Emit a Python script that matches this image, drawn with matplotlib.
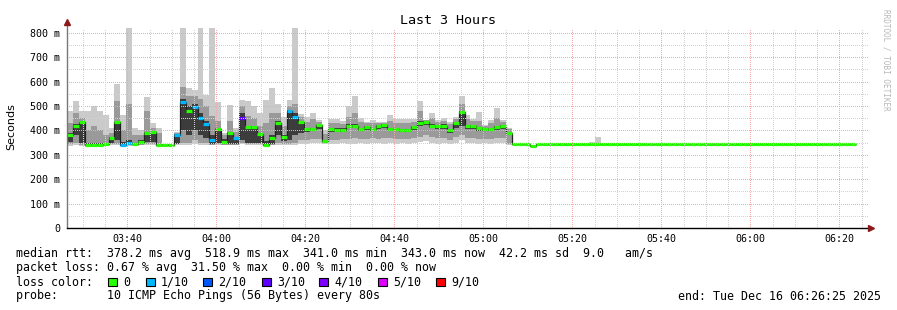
import matplotlib
matplotlib.use('Agg')
import matplotlib.pyplot as plt
from matplotlib.patches import Rectangle
import numpy as np

W, H = 897, 310

# time axis
start_time = '03:26:25'
end_time = '06:26:25'
step_seconds = 80
tick_labels = ['03:40', '04:00', '04:20', '04:40', '05:00', '05:20', '05:40', '06:00', '06:20']
y_ticks = [0, 100, 200, 300, 400, 500, 600, 700, 800]
y_tick_labels = ['0', '100 m', '200 m', '300 m', '400 m', '500 m', '600 m', '700 m', '800 m']

# busy part (80 s steps), values in ms
median_busy = [383, 418, 435, 342, 342, 342, 343, 369, 436, 342,
               349, 345, 353, 390, 393, 342, 342, 342, 383, 518,
               481, 498, 453, 426, 361, 405, 353, 390, 369, 453,
               416, 416, 384, 342, 371, 432, 372, 481, 454, 436,
               407, 407, 421, 357, 407, 403, 403, 420, 420, 407,
               413, 407, 417, 424, 407, 407, 402, 402, 413, 432,
               436, 420, 417, 420, 402, 429, 477, 417, 417, 410,
               406, 407, 413, 419, 391]
loss_busy = [0, 0, 0, 0, 0, 0, 0, 0, 0, 1,
             1, 0, 0, 0, 0, 0, 0, 0, 1, 1,
             0, 1, 1, 1, 1, 0, 0, 0, 1, 3,
             0, 0, 0, 0, 0, 0, 0, 1, 1, 0,
             0, 0, 0, 0, 0, 0, 0, 0, 0, 0,
             0, 0, 0, 0, 0, 0, 0, 0, 0, 0,
             0, 0, 0, 0, 0, 0, 0, 0, 0, 0,
             0, 0, 0, 0, 0]
lo_busy = [338, 340, 338, 338, 338, 338, 338, 340, 340, 338,
           338, 338, 340, 340, 340, 338, 342, 342, 340, 340,
           342, 345, 342, 342, 340, 340, 340, 340, 340, 345,
           340, 340, 340, 338, 340, 340, 340, 340, 342, 345,
           345, 350, 350, 345, 345, 345, 350, 345, 345, 350,
           345, 350, 348, 345, 350, 345, 350, 345, 350, 352,
           355, 350, 345, 350, 345, 350, 360, 350, 350, 345,
           348, 345, 350, 348, 340]
mid_lo_busy = [345, 350, 342, 340, 340, 340, 340, 345, 345, 340,
               340, 340, 342, 345, 345, 340, 342, 342, 343, 350,
               350, 360, 350, 350, 342, 345, 342, 342, 342, 350,
               345, 345, 345, 340, 342, 350, 345, 345, 350, 360,
               360, 365, 365, 350, 360, 360, 365, 365, 370, 365,
               365, 370, 365, 368, 370, 365, 365, 365, 370, 375,
               380, 375, 370, 370, 360, 375, 380, 370, 370, 365,
               365, 365, 370, 368, 345]
core_lo_busy = [352, 380, 349, 342, 342, 342, 342, 349, 360, 342,
                342, 342, 349, 354, 354, 342, 342, 342, 345, 400,
                380, 400, 380, 370, 345, 350, 345, 345, 345, 360,
                350, 350, 350, 342, 345, 380, 355, 360, 380, 390,
                395, 400, 405, 352, 392, 392, 395, 408, 408, 396,
                402, 398, 406, 412, 396, 396, 392, 392, 402, 418,
                422, 408, 404, 406, 390, 412, 420, 404, 404, 398,
                396, 396, 400, 406, 380]
core_hi_busy = [390, 425, 435, 350, 350, 348, 346, 375, 436, 352,
                360, 350, 361, 395, 395, 345, 343, 343, 385, 530,
                500, 510, 470, 440, 380, 410, 365, 395, 375, 470,
                420, 420, 390, 355, 380, 440, 380, 485, 470, 440,
                412, 412, 424, 362, 412, 408, 408, 425, 425, 412,
                418, 412, 422, 428, 412, 412, 406, 406, 418, 437,
                440, 425, 422, 425, 407, 434, 480, 422, 422, 415,
                411, 412, 418, 424, 395]
mid_hi_busy = [430, 470, 450, 400, 420, 400, 380, 390, 520, 400,
               510, 380, 380, 480, 410, 390, 343, 343, 390, 580,
               540, 540, 530, 500, 460, 440, 380, 440, 395, 500,
               460, 450, 420, 430, 470, 470, 420, 500, 510, 455,
               435, 445, 435, 385, 430, 430, 425, 455, 470, 435,
               430, 430, 430, 432, 440, 430, 430, 430, 435, 480,
               442, 450, 435, 440, 425, 445, 510, 445, 440, 440,
               418, 430, 450, 435, 405]
hi_busy = [480, 522, 481, 481, 500, 481, 464, 410, 591, 464,
           820, 410, 402, 539, 430, 410, 343, 343, 395, 820,
           574, 566, 820, 546, 820, 518, 390, 505, 412, 525,
           521, 500, 470, 525, 574, 509, 457, 525, 820, 468,
           457, 472, 443, 402, 447, 447, 439, 500, 541, 451,
           436, 443, 436, 436, 464, 447, 447, 447, 447, 521,
           443, 472, 443, 453, 436, 457, 541, 464, 447, 477,
           423, 443, 494, 443, 410]

# quiet part
median_quiet = [343, 343, 343, 338, 343, 343, 343, 343, 343, 343,
                343, 343, 343, 343, 343, 343, 343, 346, 343, 343,
                346, 343, 343, 346, 346, 346, 343, 343, 344, 343,
                346, 343, 346, 346, 343, 343, 346, 346, 343, 346,
                343, 343, 343, 343, 346, 346, 346, 346, 346, 346,
                346, 346, 343, 343, 343, 343, 346, 343]
hi_quiet = [343, 343, 343, 338, 343, 343, 343, 343, 343, 343,
            343, 343, 343, 353, 372, 343, 343, 346, 343, 343,
            346, 343, 343, 346, 346, 346, 343, 343, 347, 343,
            346, 343, 346, 346, 343, 343, 346, 346, 343, 346,
            343, 343, 343, 343, 346, 346, 346, 346, 346, 346,
            346, 346, 343, 343, 343, 343, 346, 343]
loss_quiet = [0] * 58

loss_levels = ['0', '1/10', '2/10', '3/10', '4/10', '5/10', '9/10']
loss_values = [0, 1, 2, 3, 4, 5, 9]
loss_colors = ['#26ff00', '#00b8ff', '#0059ff', '#5e00ff', '#7e00ff', '#dd00ff', '#ff0000']

median = np.array(median_busy + median_quiet, dtype=float)
loss = loss_busy + loss_quiet
lo = np.array(lo_busy + median_quiet, dtype=float)
mid_lo = np.array(mid_lo_busy + median_quiet, dtype=float)
core_lo = np.array(core_lo_busy + median_quiet, dtype=float)
core_hi = np.array(core_hi_busy + median_quiet, dtype=float)
mid_hi = np.array(mid_hi_busy + median_quiet, dtype=float)
hi = np.array(hi_busy + hi_quiet, dtype=float)


def to_min(s):
    parts = [int(p) for p in s.split(':')]
    while len(parts) < 3:
        parts.append(0)
    return parts[0] * 60 + parts[1] + parts[2] / 60.0


t0 = to_min(start_time)
t1 = to_min(end_time)
edges = t0 + np.arange(len(median) + 1) * step_seconds / 60.0

fig = plt.figure(figsize=(W / 100, H / 100), dpi=100)
fig.patch.set_facecolor('white')
ax = fig.add_axes([67 / W, 82 / H, 801 / W, 200 / H])
ax.set_xlim(t0, t1)
ax.set_ylim(0, 820)
for s in ax.spines.values():
    s.set_visible(False)

# smoke
ax.stairs(hi, edges, baseline=lo, fill=True, color='#cacaca', lw=0, zorder=2)
ax.stairs(mid_hi, edges, baseline=mid_lo, fill=True, color='#9a9a9a', lw=0, zorder=3)
ax.stairs(core_hi, edges, baseline=core_lo, fill=True, color='#3c3c3c', lw=0, zorder=4)

# median
ax.stairs(median, edges, baseline=None, color='#202020', lw=0.9, zorder=5)
cmap = dict(zip(loss_values, loss_colors))
ax.hlines(median, edges[:-1], edges[1:], colors=[cmap[v] for v in loss],
          lw=2.3, capstyle='butt', zorder=6)

# grid, dotted
dot = (0, (1, 2))
for v in range(50, 850, 50):
    if v > 820:
        continue
    c = '#f4a9a9' if v % 100 == 0 else '#d2d2d2'
    ax.axhline(v, color=c, lw=0.72, ls=dot, zorder=7, antialiased=False)
m = np.ceil(t0 / 5) * 5
while m < t1:
    c = '#f4a9a9' if m % 20 == 0 else '#d2d2d2'
    ax.axvline(m, color=c, lw=0.72, ls=dot, zorder=7, antialiased=False)
    m += 5

# axes lines with arrows
ax.plot([0, 0], [0, 1.02], transform=ax.transAxes, color='#777777', lw=1, clip_on=False, zorder=8)
ax.plot([0, 1.004], [0, 0], transform=ax.transAxes, color='black', lw=1, clip_on=False, zorder=8)
ax.plot([0], [1.03], marker='^', ms=4, color='#8b1a1a', transform=ax.transAxes, clip_on=False, zorder=9)
ax.plot([1.004], [0], marker='>', ms=4, color='#8b1a1a', transform=ax.transAxes, clip_on=False, zorder=9)

ax.set_yticks(y_ticks, y_tick_labels, fontsize=7.2, family='DejaVu Sans Mono')
ax.set_xticks([to_min(t) for t in tick_labels], tick_labels, fontsize=7.2, family='DejaVu Sans Mono')
ax.tick_params(axis='y', length=0, pad=5)
ax.tick_params(axis='x', length=0, pad=4)

fig.text(11 / W, 1 - 127 / H, 'Seconds', rotation=90, ha='center', va='center', fontsize=8)
fig.text(448 / W, 1 - 20 / H, 'Last 3 Hours', ha='center', va='center', fontsize=9.6,
         family='DejaVu Sans Mono')
fig.text(886 / W, 1 - 60 / H, 'RRDTOOL / TOBI OETIKER', rotation=270, ha='center', va='center',
         fontsize=5.5, family='DejaVu Sans Mono', color='#b8b8b8')

mono = dict(fontsize=8.4, family='DejaVu Sans Mono', va='center')
fig.text(16 / W, 1 - 254 / H,
         'median rtt:  378.2 ms avg  518.9 ms max  341.0 ms min  343.0 ms now  42.2 ms sd  9.0   am/s', **mono)
fig.text(16 / W, 1 - 268 / H, 'packet loss: 0.67 % avg  31.50 % max  0.00 % min  0.00 % now', **mono)
fig.text(16 / W, 1 - 282 / H, 'loss color:', **mono)
fig.text(16 / W, 1 - 296 / H, 'probe:       10 ICMP Echo Pings (56 Bytes) every 80s', **mono)
fig.text(881 / W, 1 - 296 / H, 'end: Tue Dec 16 06:26:25 2025', ha='right', fontsize=8.4,
         family='DejaVu Sans Mono', va='center')

box_x = [108, 146, 203, 262, 319, 378, 436]
for bx, lab, col in zip(box_x, loss_levels, loss_colors):
    fig.add_artist(Rectangle((bx / W, 1 - 286 / H), 9 / W, 8.5 / H, facecolor=col,
                             edgecolor='black', lw=0.8, transform=fig.transFigure))
    fig.text((bx + 15) / W, 1 - 282 / H, lab, **mono)

fig.savefig('out.png', dpi=100, facecolor='white')
